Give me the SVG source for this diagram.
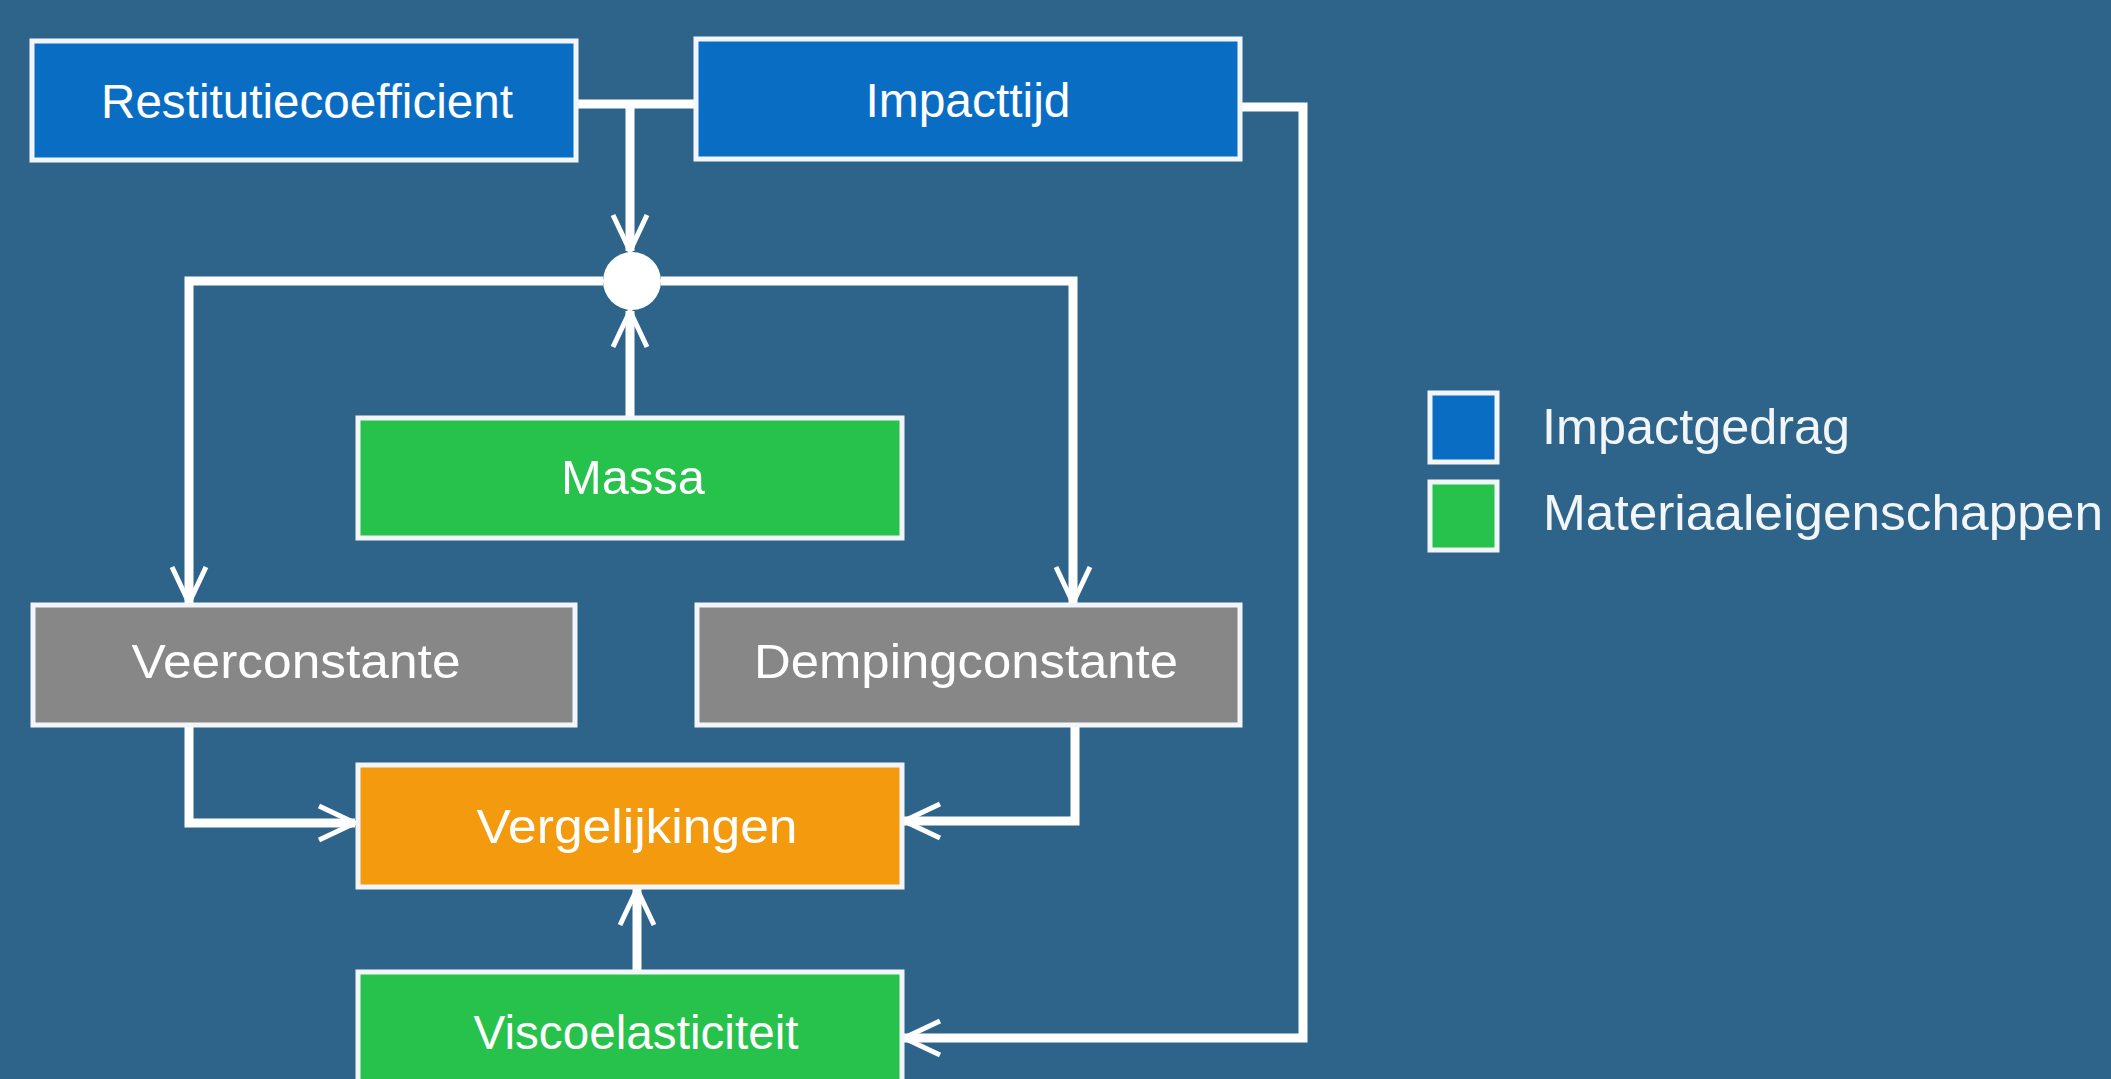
<svg xmlns="http://www.w3.org/2000/svg" width="2111" height="1079" viewBox="0 0 2111 1079">
<defs>
<style>
.box{stroke:#F2F6FA;stroke-width:5}
.blue{fill:#0A6DC4}
.green{fill:#26C24B}
.grey{fill:#878787}
.orange{fill:#F49A0E}
.lbl{font-family:"Liberation Sans",Arial,sans-serif;font-size:48px;fill:#FFFFFF;text-anchor:middle}
.leg{font-family:"Liberation Sans",Arial,sans-serif;font-size:50px;fill:#F2F6FA}
.conn{fill:none;stroke:#FFFFFF;stroke-width:9}
</style>
<marker id="arr" markerUnits="userSpaceOnUse" orient="auto" refX="0" refY="0" markerWidth="60" markerHeight="60" overflow="visible">
<path d="M-36,-17 L0,0 L-36,17" fill="none" stroke="#FFFFFF" stroke-width="5" stroke-linejoin="miter"/>
</marker>
</defs>
<rect width="2111" height="1079" fill="#2E6489"/>

<g id="connectors">
<path class="conn" d="M576,104 H695 M630,104 V251" marker-end="url(#arr)"/>
<path class="conn" d="M630,417 V311" marker-end="url(#arr)"/>
<path class="conn" d="M603,281 H189 V603" marker-end="url(#arr)"/>
<path class="conn" d="M661,281 H1073 V603" marker-end="url(#arr)"/>
<path class="conn" d="M189,725 V823 H355" marker-end="url(#arr)"/>
<path class="conn" d="M1075,725 V821 H904" marker-end="url(#arr)"/>
<path class="conn" d="M637,972 V889" marker-end="url(#arr)"/>
<path class="conn" d="M1240,107 H1303 V1038 H904" marker-end="url(#arr)"/>
</g>

<g id="junction">
<circle cx="632" cy="281" r="29" fill="#FFFFFF"/>
</g>

<g id="restitutiecoefficient">
<rect class="box blue" x="32" y="41" width="544" height="119"/>
<text class="lbl" x="307" y="118" textLength="412" lengthAdjust="spacingAndGlyphs">Restitutiecoefficient</text>
</g>
<g id="impacttijd">
<rect class="box blue" x="696" y="39" width="544" height="120"/>
<text class="lbl" x="968" y="117" textLength="205" lengthAdjust="spacingAndGlyphs">Impacttijd</text>
</g>
<g id="massa">
<rect class="box green" x="358" y="418" width="544" height="120"/>
<text class="lbl" x="633" y="494" textLength="144" lengthAdjust="spacingAndGlyphs">Massa</text>
</g>
<g id="veerconstante">
<rect class="box grey" x="33" y="605" width="542" height="120"/>
<text class="lbl" x="296" y="678" textLength="329" lengthAdjust="spacingAndGlyphs">Veerconstante</text>
</g>
<g id="dempingconstante">
<rect class="box grey" x="697" y="605" width="543" height="120"/>
<text class="lbl" x="966" y="678" textLength="424" lengthAdjust="spacingAndGlyphs">Dempingconstante</text>
</g>
<g id="vergelijkingen">
<rect class="box orange" x="358" y="765" width="544" height="122"/>
<text class="lbl" x="637" y="843" textLength="321" lengthAdjust="spacingAndGlyphs">Vergelijkingen</text>
</g>
<g id="viscoelasticiteit">
<rect class="box green" x="358" y="972" width="544" height="125"/>
<text class="lbl" x="636" y="1049" textLength="325" lengthAdjust="spacingAndGlyphs">Viscoelasticiteit</text>
</g>

<g id="legend">
<rect class="box blue" x="1430" y="393" width="67" height="69" stroke-width="4"/>
<text class="leg" x="1542" y="444" textLength="308" lengthAdjust="spacingAndGlyphs">Impactgedrag</text>
<rect class="box green" x="1430" y="482" width="67" height="68" stroke-width="4"/>
<text class="leg" x="1543" y="530" textLength="560" lengthAdjust="spacingAndGlyphs">Materiaaleigenschappen</text>
</g>
</svg>
